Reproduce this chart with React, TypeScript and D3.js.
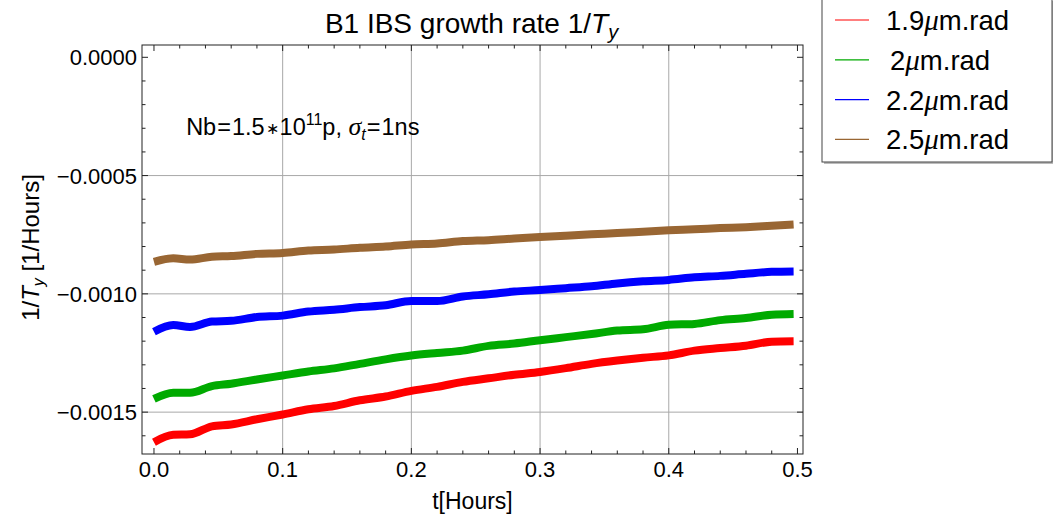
import React from "react";
import * as d3 from "d3";

// ---- data ----
const tHours = [0, 0.015, 0.028, 0.045, 0.06, 0.08, 0.1, 0.12, 0.14, 0.16, 0.18, 0.2, 0.22, 0.24, 0.26, 0.28, 0.3, 0.32, 0.34, 0.36, 0.38, 0.4, 0.42, 0.44, 0.46, 0.48, 0.497];

const rate19 = [-0.001627, -0.001596, -0.001594, -0.00156, -0.001552, -0.00153, -0.00151, -0.001488, -0.001474, -0.00145, -0.001434, -0.00141, -0.001393, -0.001372, -0.001357, -0.001342, -0.00133, -0.001314, -0.001296, -0.001282, -0.00127, -0.00126, -0.00124, -0.001229, -0.001219, -0.001202, -0.0012];
const rate20 = [-0.001444, -0.001418, -0.001418, -0.00139, -0.00138, -0.001362, -0.001345, -0.001328, -0.001315, -0.001296, -0.001277, -0.001261, -0.00125, -0.00124, -0.00122, -0.00121, -0.001196, -0.001183, -0.00117, -0.001155, -0.00115, -0.001131, -0.001127, -0.001111, -0.001102, -0.001088, -0.001085];
const rate22 = [-0.00116, -0.001132, -0.00114, -0.001117, -0.001114, -0.001098, -0.001092, -0.001075, -0.001067, -0.001056, -0.001048, -0.00103, -0.00103, -0.001011, -0.001002, -0.00099, -0.000984, -0.000976, -0.000968, -0.000956, -0.000947, -0.000941, -0.00093, -0.000924, -0.000915, -0.000907, -0.000905];
const rate25 = [-0.000865, -0.00085, -0.000855, -0.000843, -0.00084, -0.000831, -0.000827, -0.000817, -0.000813, -0.000805, -0.0008, -0.000791, -0.000787, -0.000777, -0.000773, -0.000766, -0.00076, -0.000754, -0.000748, -0.000743, -0.000737, -0.000731, -0.000727, -0.000722, -0.000718, -0.000712, -0.000707];

const emittances = ["1.9", "2", "2.2", "2.5"];
const seriesValues = [rate19, rate20, rate22, rate25];
const seriesColors = ["#ff0000", "#00aa00", "#0000ff", "#996633"];

const xMajorTicks = [0, 0.1, 0.2, 0.3, 0.4, 0.5];
const yMajorTicks = [0, -0.0005, -0.001, -0.0015];

// ---- layout ----
const W = 1053;
const H = 514;
const plot = { left: 142, right: 803, top: 45, bottom: 454 };
const FONT = "'Liberation Sans', Arial, sans-serif";

export default function App() {
  const x = d3.scaleLinear().domain([-0.0093, 0.5043]).range([plot.left, plot.right]);
  const y = d3.scaleLinear().domain([0.000052, -0.001677]).range([plot.top, plot.bottom]);

  const xMinor = d3.range(0, 0.5001, 0.02).filter((v) => !xMajorTicks.some((m) => Math.abs(m - v) < 1e-9));
  const yMinor = d3.range(0, -0.00165, -0.0001).filter((v) => !yMajorTicks.some((m) => Math.abs(m - v) < 1e-12));

  const line = d3
    .line<[number, number]>()
    .x((d) => x(d[0]))
    .y((d) => y(d[1]))
    .curve(d3.curveMonotoneX);

  const fmtX = d3.format(".1f");
  const fmtY = d3.format(".4f");

  const majL = 6;
  const minL = 3.5;
  const frameColor = "#222";
  const gridColor = "#a8a8a8";

  const legend = { x: 822, y: -1, w: 230, h: 163 };
  const legendRowY = (i: number) => 20 + i * 39.8;

  return (
    <svg
      width={W}
      height={H}
      style={{ position: "absolute", left: 0, top: 0, background: "#fff" }}
      fontFamily={FONT}
    >
      <rect x={0} y={0} width={W} height={H} fill="#fff" />

      {/* grid */}
      {xMajorTicks
        .filter((v) => v > 0 && v < 0.5)
        .map((v) => (
          <line key={"gx" + v} x1={x(v)} x2={x(v)} y1={plot.top} y2={plot.bottom} stroke={gridColor} strokeWidth={1} />
        ))}
      {yMajorTicks
        .filter((v) => v < 0)
        .map((v) => (
          <line key={"gy" + v} x1={plot.left} x2={plot.right} y1={y(v)} y2={y(v)} stroke={gridColor} strokeWidth={1} />
        ))}

      {/* series */}
      {seriesValues.map((vals, i) => (
        <path
          key={"s" + i}
          d={line(tHours.map((t, j) => [t, vals[j]] as [number, number])) || ""}
          fill="none"
          stroke={seriesColors[i]}
          strokeWidth={8}
          strokeLinejoin="round"
        />
      ))}

      {/* frame */}
      <rect
        x={plot.left}
        y={plot.top}
        width={plot.right - plot.left}
        height={plot.bottom - plot.top}
        fill="none"
        stroke={frameColor}
        strokeWidth={1}
      />

      {/* x ticks bottom & top */}
      {xMajorTicks.map((v) => (
        <g key={"xt" + v}>
          <line x1={x(v)} x2={x(v)} y1={plot.bottom} y2={plot.bottom - majL} stroke={frameColor} />
          <line x1={x(v)} x2={x(v)} y1={plot.top} y2={plot.top + majL} stroke={frameColor} />
          <text x={x(v)} y={477} textAnchor="middle" fontSize={22} fill="#000">
            {fmtX(v)}
          </text>
        </g>
      ))}
      {xMinor.map((v) => (
        <g key={"xm" + v}>
          <line x1={x(v)} x2={x(v)} y1={plot.bottom} y2={plot.bottom - minL} stroke={frameColor} />
          <line x1={x(v)} x2={x(v)} y1={plot.top} y2={plot.top + minL} stroke={frameColor} />
        </g>
      ))}

      {/* y ticks left & right */}
      {yMajorTicks.map((v) => (
        <g key={"yt" + v}>
          <line x1={plot.left} x2={plot.left + majL} y1={y(v)} y2={y(v)} stroke={frameColor} />
          <line x1={plot.right} x2={plot.right - majL} y1={y(v)} y2={y(v)} stroke={frameColor} />
          <text x={137} y={y(v) + 8} textAnchor="end" fontSize={22} fill="#000">
            {fmtY(v)}
          </text>
        </g>
      ))}
      {yMinor.map((v) => (
        <g key={"ym" + v}>
          <line x1={plot.left} x2={plot.left + minL} y1={y(v)} y2={y(v)} stroke={frameColor} />
          <line x1={plot.right} x2={plot.right - minL} y1={y(v)} y2={y(v)} stroke={frameColor} />
        </g>
      ))}

      {/* title */}
      <text x={(plot.left + plot.right) / 2 - 1} y={33} textAnchor="middle" fontSize={28} fill="#000">
        B1 IBS growth rate 1/
        <tspan fontStyle="italic">T</tspan>
        <tspan fontStyle="italic" fontSize={20} dy={6}>y</tspan>
      </text>

      {/* axis labels */}
      <text x={(plot.left + plot.right) / 2} y={509} textAnchor="middle" fontSize={23} fill="#000">
        t[Hours]
      </text>
      <text
        transform={`translate(39, ${(plot.top + plot.bottom) / 2 - 2}) rotate(-90)`}
        textAnchor="middle"
        fontSize={24}
        fill="#000"
      >
        1/
        <tspan fontStyle="italic">T</tspan>
        <tspan fontStyle="italic" fontSize={16} dy={5}>y</tspan>
        <tspan dy={-5}> [1/Hours]</tspan>
      </text>

      {/* annotation */}
      <text x={x(0.025)} y={y(-0.000328)} fontSize={23.5} fill="#000">
        Nb
        <tspan dx={1}>=</tspan>
        <tspan dx={1}>1.5</tspan>
        <tspan fontSize={16} dy={-1} dx={1}>∗</tspan>
        <tspan dy={1} dx={1}>10</tspan>
        <tspan fontSize={16} dy={-10}>11</tspan>
        <tspan dy={10}>p, </tspan>
        <tspan fontStyle="italic" fontFamily="'Liberation Serif', serif" fontSize={26}>σ</tspan>
        <tspan fontStyle="italic" fontSize={16} dy={5}>t</tspan>
        <tspan dy={-5} dx={1}>=</tspan>
        <tspan dx={1}>1ns</tspan>
      </text>

      {/* legend */}
      <rect x={legend.x + 2} y={legend.y + 2} width={legend.w} height={legend.h} fill="#bbb" />
      <rect x={legend.x} y={legend.y} width={legend.w} height={legend.h} fill="#fff" stroke="#444" strokeWidth={1} />
      {emittances.map((e, i) => (
        <g key={"lg" + i}>
          <line
            x1={835}
            x2={869}
            y1={legendRowY(i)}
            y2={legendRowY(i)}
            stroke={seriesColors[i]}
            strokeWidth={1.2}
          />
          <text x={e.length === 1 ? 890 : 886} y={legendRowY(i) + 10} fontSize={27.5} fill="#000">
            {e}
            <tspan fontStyle="italic" fontFamily="'Liberation Serif', serif" fontSize={29}>μ</tspan>
            m.rad
          </text>
        </g>
      ))}
    </svg>
  );
}
